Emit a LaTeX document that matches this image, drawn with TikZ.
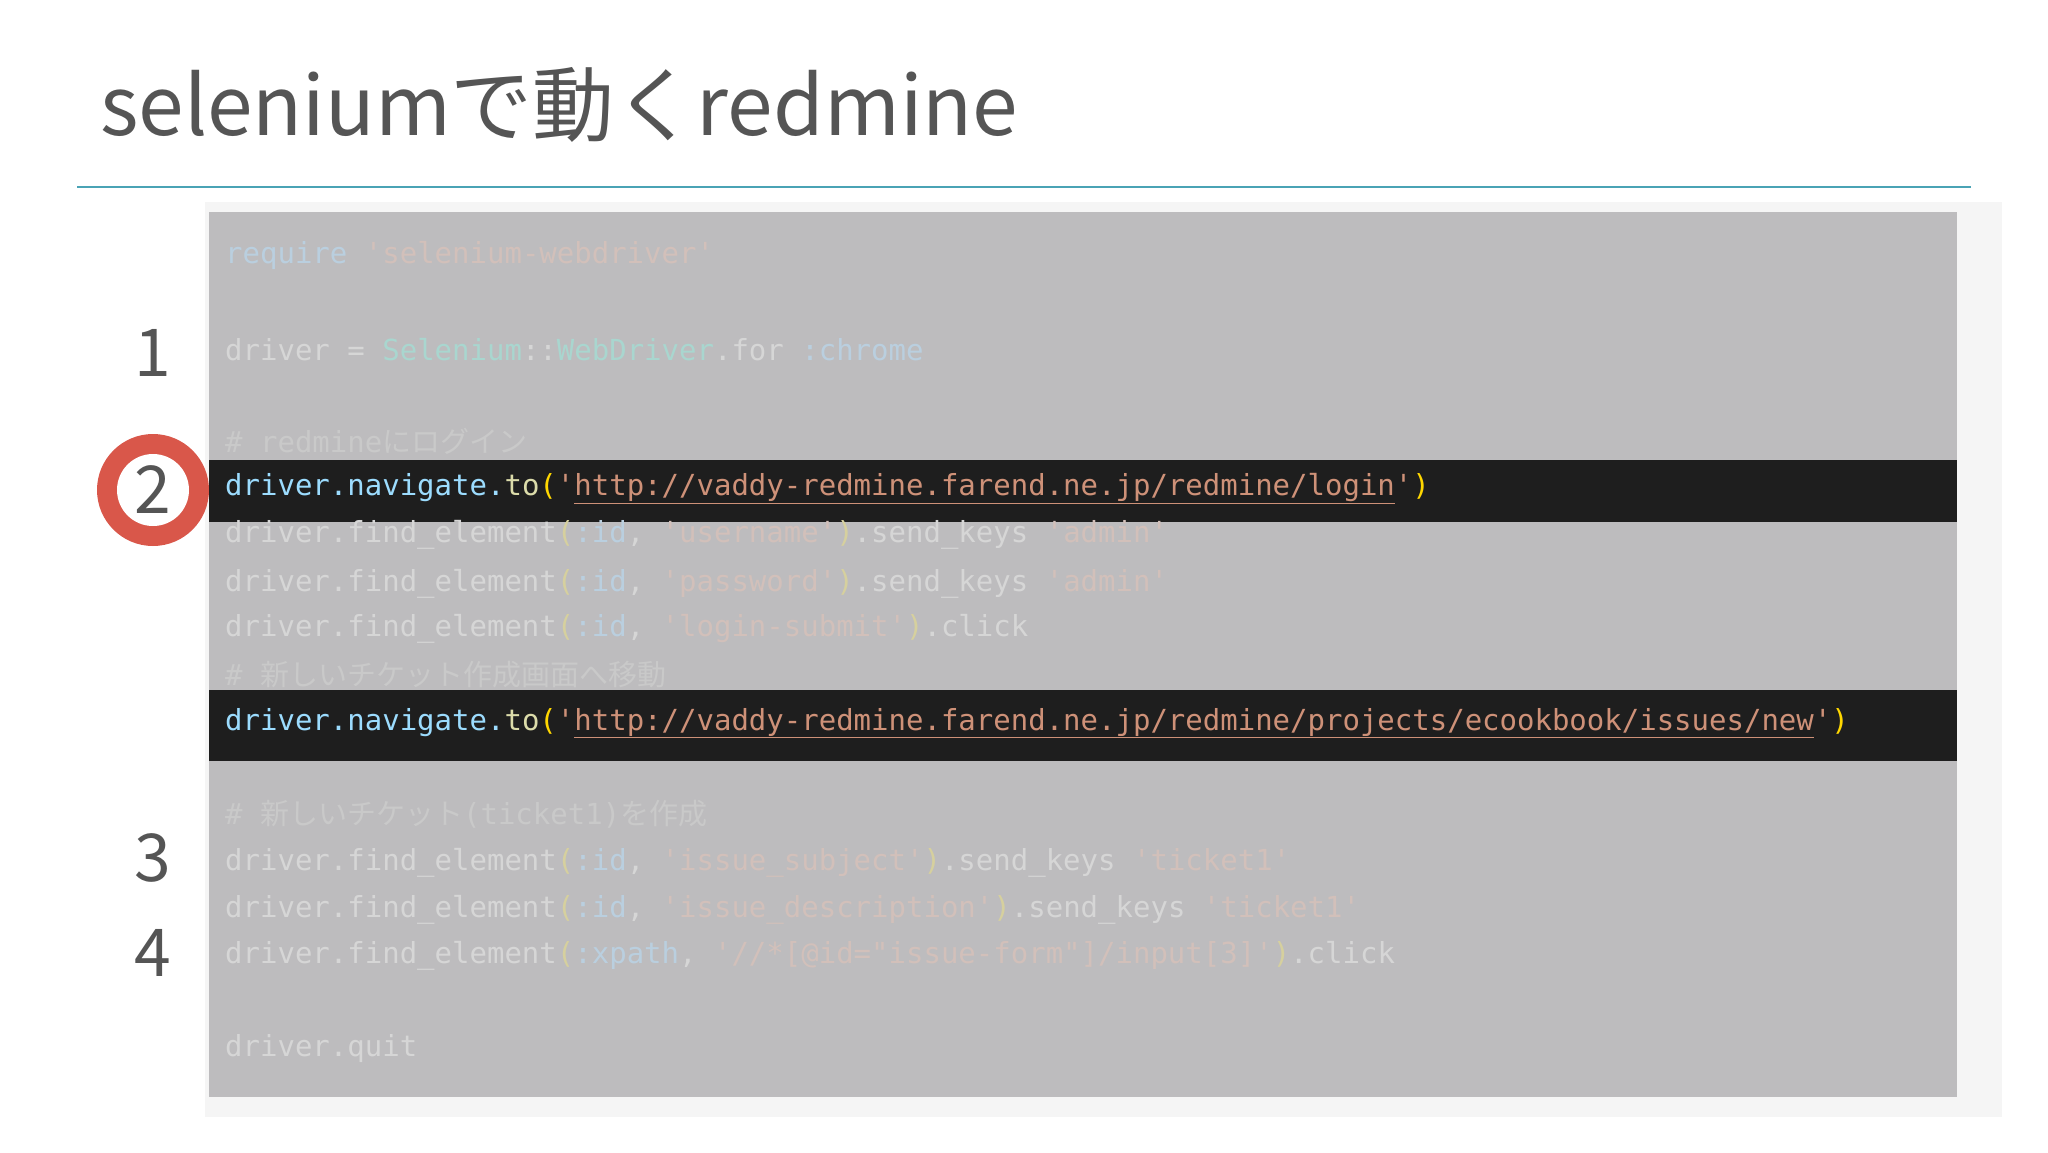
\documentclass[tikz,border=0pt]{standalone}
\usepackage{fontspec}
\setmainfont{Noto Sans CJK JP}
\setmonofont{DejaVu Sans Mono}
\newfontfamily\cjk{Noto Sans CJK JP}
\definecolor{titlegray}{HTML}{555555}
\definecolor{rule}{HTML}{4AA3B5}
\definecolor{boxgray}{HTML}{BDBCBE}
\definecolor{outer}{HTML}{F5F5F5}
\definecolor{band}{HTML}{1E1E1E}
\definecolor{fd}{HTML}{D6D6D6}
\definecolor{fstr}{HTML}{D2C0BA}
\definecolor{fsym}{HTML}{BACFDF}
\definecolor{fcls}{HTML}{A9D6CF}
\definecolor{fpar}{HTML}{D6D09E}
\definecolor{fcom}{HTML}{C9C9C9}
\definecolor{bvar}{HTML}{9CDCFE}
\definecolor{bfun}{HTML}{DCDCAA}
\definecolor{bpar}{HTML}{FFD700}
\definecolor{bstr}{HTML}{CE9178}
\definecolor{ring}{HTML}{D9574A}
\newcommand{\fc}[2]{\textcolor{#1}{#2}}
\begin{document}
\begin{tikzpicture}[x=1pt,y=-1pt,
  code/.style={anchor=west,inner sep=0pt,font=\ttfamily\fontsize{29}{29}\selectfont,text=fd},
  num/.style={inner sep=0pt,font=\fontsize{66}{66}\selectfont\cjk,text=titlegray}]
\useasboundingbox (0,0) rectangle (2048,1152);
\fill[white] (0,0) rectangle (2048,1152);
\node[anchor=base west,inner sep=0pt,text=titlegray,font=\fontsize{82}{82}\selectfont] (title) at (100,135) {seleniumで動くredmine};
\draw[rule,line width=1.5pt] (77,187) -- (1971,187);
\fill[outer] (205,202) rectangle (2002,1117);
\fill[boxgray] (209,212) rectangle (1957,1097);
\fill[band] (209,460) rectangle (1957,522);
\fill[band] (209,690) rectangle (1957,761);
\node[code] (l1) at (225,255) {\fc{fsym}{require} \fc{fstr}{'selenium-webdriver'}};
\node[code] (l2) at (225,350) {driver = \fc{fcls}{Selenium}::\fc{fcls}{WebDriver}.for \fc{fsym}{:chrome}};
\node[code,text=fcom] (l3) at (225,441) {\# redmine{\cjk にログイン}};
\node[code,text=bvar] (l4) at (225,489) {driver.navigate.\fc{bfun}{to}\fc{bpar}{(}\fc{bstr}{'\underline{http://vaddy-redmine.farend.ne.jp/redmine/login}'}\fc{bpar}{)}};
\node[code] (l5) at (225,535) {driver.find\_element\fc{fpar}{(}\fc{fsym}{:id}, \fc{fstr}{'username'}\fc{fpar}{)}.send\_keys \fc{fstr}{'admin'}};
\node[code] (l6) at (225,584) {driver.find\_element\fc{fpar}{(}\fc{fsym}{:id}, \fc{fstr}{'password'}\fc{fpar}{)}.send\_keys \fc{fstr}{'admin'}};
\node[code] (l7) at (225,629) {driver.find\_element\fc{fpar}{(}\fc{fsym}{:id}, \fc{fstr}{'login-submit'}\fc{fpar}{)}.click};
\node[code,text=fcom] (l8) at (225,675) {\# {\cjk 新しいチケット作成画面へ移動}};
\node[code,text=bvar] (l9) at (225,723) {driver.navigate.\fc{bfun}{to}\fc{bpar}{(}\fc{bstr}{'\underline{http://vaddy-redmine.farend.ne.jp/redmine/projects/ecookbook/issues/new}'}\fc{bpar}{)}};
\node[code,text=fcom] (l10) at (225,814) {\# {\cjk 新しいチケット}(ticket1){\cjk を作成}};
\node[code] (l11) at (225,863) {driver.find\_element\fc{fpar}{(}\fc{fsym}{:id}, \fc{fstr}{'issue\_subject'}\fc{fpar}{)}.send\_keys \fc{fstr}{'ticket1'}};
\node[code] (l12) at (225,910) {driver.find\_element\fc{fpar}{(}\fc{fsym}{:id}, \fc{fstr}{'issue\_description'}\fc{fpar}{)}.send\_keys \fc{fstr}{'ticket1'}};
\node[code] (l13) at (225,956) {driver.find\_element\fc{fpar}{(}\fc{fsym}{:xpath}, \fc{fstr}{'//*[@id="issue-form"]/input[3]'}\fc{fpar}{)}.click};
\node[code] (l14) at (225,1049) {driver.quit};
\node[num] (n1) at (153,353) {1};
\fill[ring] (153,490) circle (56);
\fill[white] (153,490) circle (36);
\node[num] (n2) at (153,490) {2};
\node[num] (n3) at (153,858) {3};
\node[num] (n4) at (153,953) {4};
\end{tikzpicture}
\end{document}
